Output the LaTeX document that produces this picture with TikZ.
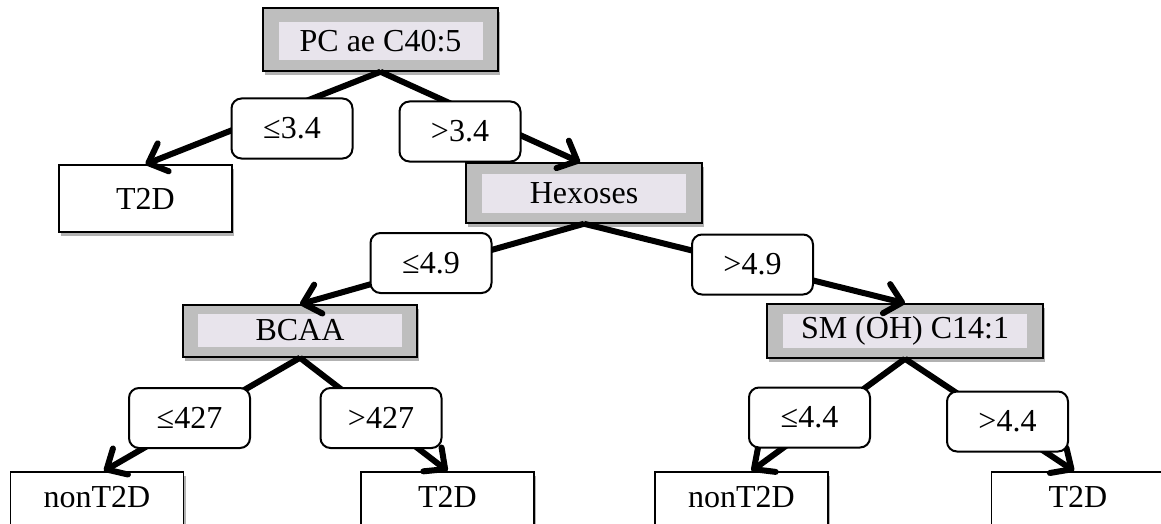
\documentclass[tikz,border=0pt]{standalone}
\usepackage{fontspec}
\setmainfont{Liberation Serif}
\usetikzlibrary{arrows.meta,shadows}
\definecolor{decgrey}{RGB}{190,190,190}
\definecolor{innerfill}{RGB}{232,228,236}
\begin{document}
\begin{tikzpicture}[x=1pt,y=-1pt,
  font=\fontsize{32}{36}\selectfont,
  softshadow/.style={drop shadow={shadow xshift=2pt,shadow yshift=-4pt,opacity=0.3,fill=black}},
  decision/.style={draw=black,line width=1.5pt,fill=decgrey,inner sep=0pt,softshadow},
  inbox/.style={fill=innerfill,inner sep=0pt},
  leaf/.style={draw=black,line width=1.5pt,fill=white,inner sep=0pt,minimum width=173pt,softshadow},
  bleaf/.style={leaf,anchor=north,text height=36pt,text depth=40pt},
  cond/.style={draw=black,line width=2pt,fill=white,rounded corners=10pt,minimum width=121pt,minimum height=60pt,inner sep=0pt},
  conn/.style={line width=6pt,-{Straight Barb[length=16pt,width=30pt,round]}}
]
\useasboundingbox (0,0) rectangle (1161,524);
\clip (0,0) rectangle (1161,524);
% decision boxes
\node[decision,minimum width=235pt,minimum height=63pt] (pc) at (380.5,39.5) {};
\node[inbox,minimum width=204pt,minimum height=38pt] (pct) at (380.5,41) {PC ae C40:5};
\node[decision,minimum width=236pt,minimum height=60pt] (hex) at (584,193) {};
\node[inbox,minimum width=204pt,minimum height=39pt] (hext) at (584,193.5) {Hexoses};
\node[decision,minimum width=234pt,minimum height=52pt] (bcaa) at (300,331) {};
\node[inbox,minimum width=204pt,minimum height=33pt] (bcaat) at (300,330.5) {BCAA};
\node[decision,minimum width=276pt,minimum height=54pt] (sm) at (905,331) {};
\node[inbox,minimum width=244pt,minimum height=34pt] (smt) at (905,331) {SM (OH) C14:1};
% leaves
\node[leaf,minimum height=67pt] (t2dA) at (145.5,198.5) {T2D};
\node[bleaf] (nonA) at (97,471) {nonT2D};
\node[bleaf] (t2dB) at (447.5,471) {T2D};
\node[bleaf] (nonB) at (741.5,471) {nonT2D};
\node[bleaf] (t2dC) at (1078,471) {T2D};
% connectors
\draw[conn] (pc.south) -- (t2dA.north);
\draw[conn] (pc.south) -- ([xshift=-4pt]hex.north);
\draw[conn] (hex.south) -- (bcaa.north);
\draw[conn] (hex.south) -- (sm.north);
\draw[conn] (bcaa.south) -- ([xshift=7pt]nonA.north);
\draw[conn] (bcaa.south) -- (t2dB.north);
\draw[conn] (sm.south) -- ([xshift=10pt]nonB.north);
\draw[conn] (sm.south) -- ([xshift=-4pt]t2dC.north);
% condition labels
\node[cond] (l1) at (292,128.5) {≤3.4};
\node[cond] (l2) at (460,131.5) {>3.4};
\node[cond] (l3) at (431,263) {≤4.9};
\node[cond] (l4) at (752.5,264.5) {>4.9};
\node[cond] (l5) at (189.5,418) {≤427};
\node[cond] (l6) at (381,418) {>427};
\node[cond] (l7) at (809.5,417.5) {≤4.4};
\node[cond] (l8) at (1007.5,421.5) {>4.4};
\end{tikzpicture}
\end{document}
